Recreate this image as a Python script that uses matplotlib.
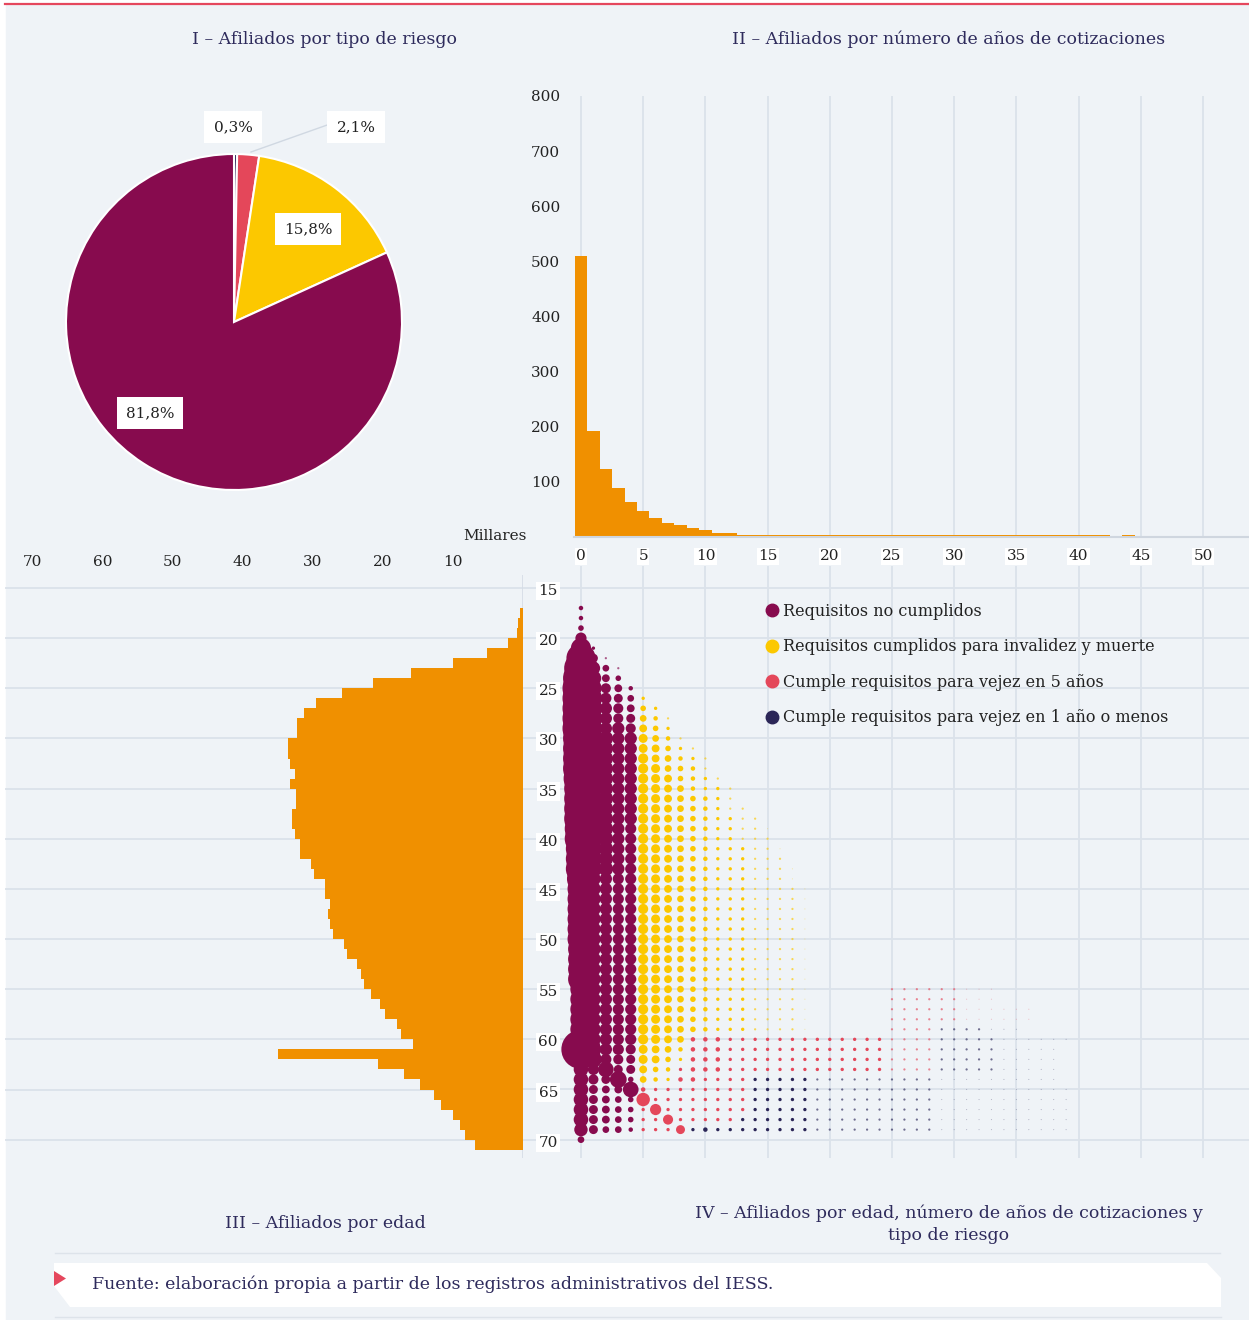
import matplotlib
matplotlib.use("Agg")
import matplotlib.pyplot as plt
from matplotlib.lines import Line2D
from matplotlib.patches import Polygon, Rectangle
from matplotlib.colors import to_rgba

W, H = 1249, 1320

# I - afiliados por tipo de riesgo (%)
riesgo_nombres = ["Cumple requisitos para vejez en 1 año o menos",
                  "Cumple requisitos para vejez en 5 años",
                  "Requisitos cumplidos para invalidez y muerte",
                  "Requisitos no cumplidos"]
riesgo_pct = [0.3, 2.1, 15.8, 81.8]

# II - afiliados (miles) por años de cotización
anios_cot = list(range(0, 45))
afiliados_anios = [510, 192, 123, 89, 64, 47, 34, 25, 21, 17, 13, 8, 8,
                   4, 4, 4, 4, 4, 4, 4, 4, 4, 4, 4, 4, 4, 4, 4, 4, 4,
                   4, 4, 4, 4, 4, 4, 4, 4, 4, 4, 4, 4, 4, 0, 4]

# III - afiliados (miles) por edad
edades = list(range(17, 71))
afiliados_edad = [0.4, 0.7, 0.8, 2.1, 5.1, 9.9, 16.0, 21.4, 25.8, 29.5,
                  31.2, 32.2, 32.2, 33.5, 33.5, 33.2, 32.5, 33.2, 32.3, 32.3,
                  32.9, 32.9, 32.5, 31.8, 31.8, 30.2, 29.8, 28.2, 28.2, 27.5,
                  27.8, 27.5, 27.1, 25.5, 25.1, 23.7, 23.1, 22.7, 21.7, 20.4,
                  19.7, 18.0, 17.3, 15.6, 34.9, 20.7, 17.0, 14.6, 12.6, 11.6,
                  9.9, 8.9, 8.2, 6.8]

# IV - por edad (fila) y años de cotización (posición en la cadena):
# tipo M/Y/R/N y magnitud relativa en base 36 (0 = vacío)
tipo_filas = [
    "M", "M", "M", "M", "MM", "MMM", "MMMM", "MMMM", "MMMMM",
    "MMMMM" "Y",
    "MMMMM" "YY",
    "MMMMM" "YYY",
    "MMMMM" "YYY",
    "MMMMM" "YYYY",
    "MMMMM" "YYYYY",
    "MMMMM" "YYYYY" "Y",
    "MMMMM" "YYYYY" "Y",
    "MMMMM" "YYYYY" "YY",
    "MMMMM" "YYYYY" "YYY",
    "MMMMM" "YYYYY" "YYY",
    "MMMMM" "YYYYY" "YYYY",
    "MMMMM" "YYYYY" "YYYYY",
    "MMMMM" "YYYYY" "YYYYY" "Y",
    "MMMMM" "YYYYY" "YYYYY" "Y",
    "MMMMM" "YYYYY" "YYYYY" "YY",
    "MMMMM" "YYYYY" "YYYYY" "YY",
    "MMMMM" "YYYYY" "YYYYY" "YYY",
    "MMMMM" "YYYYY" "YYYYY" "YYY",
    "MMMMM" "YYYYY" "YYYYY" "YYYY",
    "MMMMM" "YYYYY" "YYYYY" "YYYY",
    "MMMMM" "YYYYY" "YYYYY" "YYYY",
    "MMMMM" "YYYYY" "YYYYY" "YYYY",
    "MMMMM" "YYYYY" "YYYYY" "YYYY",
    "MMMMM" "YYYYY" "YYYYY" "YYYY",
    "MMMMM" "YYYYY" "YYYYY" "YYYY",
    "MMMMM" "YYYYY" "YYYYY" "YYYY",
    "MMMMM" "YYYYY" "YYYYY" "YYYY",
    "MMMMM" "YYYYY" "YYYYY" "YYYY",
    "MMMMM" "YYYYY" "YYYYY" "YYYY" "......" "RRRRR" "RRRR",
    "MMMMM" "YYYYY" "YYYYY" "YYYY" "......" "RRRRR" "RRRR",
    "MMMMM" "YYYYY" "YYYYY" "YYYY" "......" "RRRRR" "RRRRR" "RR",
    "MMMMM" "YYYYY" "YYYYY" "YYYY" "......" "RRRRR" "RRRRR" "RR",
    "MMMMM" "YYYYY" "YYYYY" "YYYY" "......" "RRRR" "NNNNN" "NN",
    "MMMMM" "YYYY" "RRRRR" "RRRRR" "RRRRR" "RRRRR" "NNNNN" "NNNNN" "N",
    "MMMMM" "YYYY" "RRRRR" "RRRRR" "RRRRR" "RRRRR" "NNNNN" "NNNNN",
    "MMMMM" "YYYY" "RRRRR" "RRRRR" "RRRRR" "RRRRR" "NNNNN" "NNNNN",
    "MMMMM" "YYY" "R" "RRRRR" "RRRRR" "RRRRR" "RRRRR" "NNNNN" "NNNNN",
    "MMMMM" "YYY" "RRRRRR" "NNNNN" "NNNNN" "NNNNN" "NNNNN" "NNNNN",
    "MMMMM" "RRRRR" "RRRR" "NNNNN" "NNNNN" "NNNNN" "NNNNN" "NNNNN" "N",
    "MMMMM" "RRRRR" "RRRR" "NNNNN" "NNNNN" "NNNNN" "NNNNN" "NNNNN" "N",
    "MMMMM" "RRRRR" "RRRR" "NNNNN" "NNNNN" "NNNNN" "NNNNN" "NNNNN" "N",
    "MMMMM" "RRRRR" "RRR" "NNNNN" "N" "NNNNN" "NNNNN" "NNNNN" "NNNNN" "N",
    "MMMMM" "RRRR" "NNNNN" "NNNNN" "NNNNN" "NNNNN" "NNNNN" "NNNNN" "N",
    "M",
]
magnitud_filas = [
    "4", "4", "5", "a", "i3", "q82", "uc62", "we75", "xf974",
    "xga86" "3",
    "xgb97" "53",
    "xgb98" "642",
    "xgbb9" "753",
    "whdbb" "8642",
    "whdbb" "87532",
    "whdbb" "97643" "2",
    "whdbb" "98654" "2",
    "vhdbb" "98754" "32",
    "ugdbb" "98764" "332",
    "ugdbb" "98765" "432",
    "ugdbb" "98765" "4322",
    "ugdbb" "98765" "43322",
    "tgdba" "98765" "43322" "1",
    "tgdba" "98765" "43322" "2",
    "rfdba" "98765" "43332" "21",
    "rfdba" "98765" "43332" "22",
    "rfdba" "98765" "43332" "221",
    "pdbaa" "98765" "43332" "221",
    "odbaa" "98765" "43332" "2221",
    "odbaa" "98765" "43332" "2221",
    "odbaa" "98765" "43332" "2221",
    "odbaa" "98765" "43332" "2221",
    "odbaa" "98765" "43332" "2221",
    "odbaa" "98765" "43332" "2221",
    "ndbaa" "98765" "43332" "2221",
    "ndbaa" "98765" "43332" "2221",
    "ndbaa" "98765" "43332" "2221",
    "ndbaa" "98765" "43332" "2221",
    "jdbaa" "98765" "43332" "2221" "000000" "22222" "2111",
    "jdbaa" "98765" "43332" "2221" "000000" "22222" "2111",
    "jdbaa" "98765" "43332" "2221" "000000" "22222" "21111" "11",
    "jdbaa" "98765" "43332" "2221" "000000" "22222" "21111" "11",
    "jdbaa" "98765" "43332" "2221" "000000" "2222" "22221" "11",
    "kdbaa" "9876" "44433" "33333" "33333" "32222" "22222" "11111" "1",
    "zeba9" "8764" "44433" "33333" "33333" "32222" "22222" "11111",
    "dfa98" "8753" "44433" "33333" "33333" "32222" "22222" "11111",
    "dae88" "754" "3" "44433" "33333" "33333" "32222" "22222" "11111",
    "d98f5" "643" "443333" "33333" "22222" "22222" "11111" "11111",
    "d877e" "43333" "3333" "33333" "22222" "22222" "11111" "11111" "1",
    "d8765" "c3333" "3333" "33333" "22222" "22222" "11111" "11111" "1",
    "d8765" "3a333" "3333" "33333" "22222" "22222" "11111" "11111" "1",
    "d8765" "33933" "333" "33333" "3" "22222" "22222" "11111" "11111" "1",
    "c8664" "3338" "34333" "33333" "22222" "22222" "11111" "11111" "1",
    "6",
]

MAROON = "#870b4e"
YELLOW = "#fcc800"
RED = "#e4475a"
NAVY = "#2b2657"
ORANGE = "#f09000"
BG = "#eff3f7"
GRID = "#dbe2ea"
TITLE = "#2e2b5c"
INK = "#222222"
colores = {"M": MAROON, "Y": YELLOW, "R": RED, "N": NAVY}

plt.rcParams["font.family"] = "DejaVu Serif"

fig = plt.figure(figsize=(W / 100, H / 100), dpi=100)
fig.patch.set_facecolor("white")


def caja(x0, y0, x1, y1):
    return [x0 / W, 1 - y1 / H, (x1 - x0) / W, (y1 - y0) / H]


fondo = fig.add_axes([0, 0, 1, 1])
fondo.set_xlim(0, W)
fondo.set_ylim(H, 0)
fondo.axis("off")
fondo.add_patch(Rectangle((6, 5), W - 6, H - 5, color=BG, zorder=0))
fondo.plot([5, W], [3.7, 3.7], color="#e5475d", lw=1.6)

# ---- I: pie ----
ax1 = fig.add_axes(caja(34, 122, 434, 522))
ax1.pie(riesgo_pct, colors=[NAVY, RED, YELLOW, MAROON], startangle=90,
        counterclock=False, radius=0.84,
        wedgeprops=dict(edgecolor="white", linewidth=1.5))
ax1.set_xlim(-1, 1)
ax1.set_ylim(-1, 1)
ax1.set_aspect("equal")
ax1.axis("off")

# ---- II: histograma años de cotización ----
ax2 = fig.add_axes(caja(574.2, 96, 1249, 537))
ax2.set_facecolor("none")
ax2.bar(anios_cot, afiliados_anios, width=1.0, color=ORANGE, linewidth=0, zorder=2)
ax2.set_xlim(-0.55, 53.7)
ax2.set_ylim(0, 800)
ax2.set_xticks(range(0, 51, 5))
ax2.set_yticks(range(100, 801, 100))
ax2.grid(axis="x", color=GRID, lw=1.3)
ax2.set_axisbelow(True)
for s in ["left", "top", "right"]:
    ax2.spines[s].set_visible(False)
ax2.spines["bottom"].set_color("#cfd6df")
ax2.spines["bottom"].set_linewidth(1.5)
ax2.tick_params(axis="y", length=0, labelsize=11, pad=10, labelcolor=INK)
ax2.tick_params(axis="x", length=0, labelsize=11, pad=9, labelcolor=INK)
for lbl in ax2.get_xticklabels():
    lbl.set_bbox(dict(facecolor="white", edgecolor="none", pad=1))

# ---- III: afiliados por edad ----
ax3 = fig.add_axes(caja(5, 575, 522.5, 1158))
ax3.set_facecolor("none")
ax3.barh(edades, afiliados_edad, height=1.0, align="edge", color=ORANGE, linewidth=0, zorder=2)
ax3.set_xlim(73.93, 0)
ax3.set_ylim(71.83, 13.70)
ax3.set_yticks(range(15, 71, 5))
ax3.set_yticklabels([])
ax3.grid(axis="y", color=GRID, lw=1.3)
ax3.set_axisbelow(True)
ax3.axvline(0, color="#d5dce5", lw=1.2, zorder=1)
ax3.xaxis.tick_top()
ax3.set_xticks(range(10, 71, 10))
ax3.tick_params(length=0, labelsize=11, pad=4, labelcolor=INK)
for s in ax3.spines.values():
    s.set_visible(False)
fondo.text(495, 536, "Millares", ha="center", va="center", fontsize=11, color=INK)

# ---- IV: burbujas edad x años de cotización ----
ax4 = fig.add_axes(caja(522.5, 566, 1249, 1158))
ax4.set_facecolor("none")
ax4.set_xlim(-4.70, 53.7)
ax4.set_ylim(71.83, 12.81)
ax4.set_xticks(range(0, 51, 5))
ax4.set_yticks(range(15, 71, 5))
ax4.grid(True, color=GRID, lw=1.3)
ax4.set_axisbelow(True)
ax4.tick_params(length=0, labelbottom=False, labelleft=False)
for s in ax4.spines.values():
    s.set_visible(False)

escala = 1.12  # px de diámetro por unidad de magnitud
puntos = {k: ([], [], [], []) for k in colores}
for edad, tipos, mags in zip(edades, tipo_filas, magnitud_filas):
    assert len(tipos) == len(mags), edad
    for anio, (t, m) in enumerate(zip(tipos, mags)):
        if t == ".":
            continue
        v = int(m, 36)
        alpha = 0.3 if v == 1 else (0.65 if v == 2 else 1.0)
        xs, ys, ss, cs = puntos[t]
        xs.append(anio)
        ys.append(edad)
        ss.append((v * escala * 0.72) ** 2)
        cs.append(to_rgba(colores[t], alpha))
for t in ["M", "Y", "R", "N"]:
    xs, ys, ss, cs = puntos[t]
    ax4.scatter(xs, ys, s=ss, c=cs, linewidths=0, zorder=3)

for a in range(15, 71, 5):
    ax4.text(-1.85, a + 0.3, str(a), ha="right", va="center", fontsize=11, color=INK, zorder=6,
             bbox=dict(facecolor="white", edgecolor="none", pad=1.5))

handles = [Line2D([], [], ls="", marker="o", ms=9, color=c)
           for c in [MAROON, YELLOW, RED, NAVY]]
ax4.legend(handles, riesgo_nombres[::-1], loc="upper left",
           bbox_to_anchor=((766 - 522.5) / 726.5, 1 - (603 - 566) / 592),
           frameon=False, fontsize=11.5, handlelength=0.7, handletextpad=0.35,
           labelspacing=1.15, borderpad=0, borderaxespad=0, labelcolor=INK)

# ---- capa superior: etiquetas del pie ----
frente = fig.add_axes([0, 0, 1, 1])
frente.set_xlim(0, W)
frente.set_ylim(H, 0)
frente.axis("off")
frente.plot([251, 330, 334], [152, 124, 124], color="#d0d8e2", lw=1)
pos_etiquetas = [(233, 127), (356, 127), (308, 229), (150, 413)]
for v, (x, y) in zip(riesgo_pct, pos_etiquetas):
    frente.text(x, y, f"{v:.1f}".replace(".", ",") + "%", ha="center", va="center",
                fontsize=11, color=INK,
                bbox=dict(boxstyle="square,pad=0.6", facecolor="white", edgecolor="none"))

# ---- títulos y fuente ----
tit = dict(ha="center", va="center", fontsize=12.5, color=TITLE)
fondo.text(325, 39, "I – Afiliados por tipo de riesgo", **tit)
fondo.text(949, 39, "II – Afiliados por número de años de cotizaciones", **tit)
fondo.text(325, 1224, "III – Afiliados por edad", **tit)
fondo.text(949, 1224, "IV – Afiliados por edad, número de años de cotizaciones y\ntipo de riesgo",
           linespacing=1.4, **tit)

fondo.plot([55, 1220], [1253, 1253], color="#dde3ea", lw=1)
fondo.plot([55, 1221], [1316.5, 1316.5], color="#dde3ea", lw=1)
fondo.add_patch(Polygon([(54, 1263), (1207, 1263), (1221, 1278), (1221, 1307),
                         (70, 1307), (54, 1286)], closed=True, facecolor="white",
                        edgecolor="none"))
fondo.add_patch(Polygon([(54, 1271), (66, 1278.5), (54, 1286)], closed=True,
                        facecolor="#e5475d", edgecolor="none"))
fondo.text(92, 1284, "Fuente: elaboración propia a partir de los registros administrativos del IESS.",
           ha="left", va="center", fontsize=12.5, color=TITLE)

fig.savefig("out.png", dpi=100, facecolor=fig.get_facecolor())
